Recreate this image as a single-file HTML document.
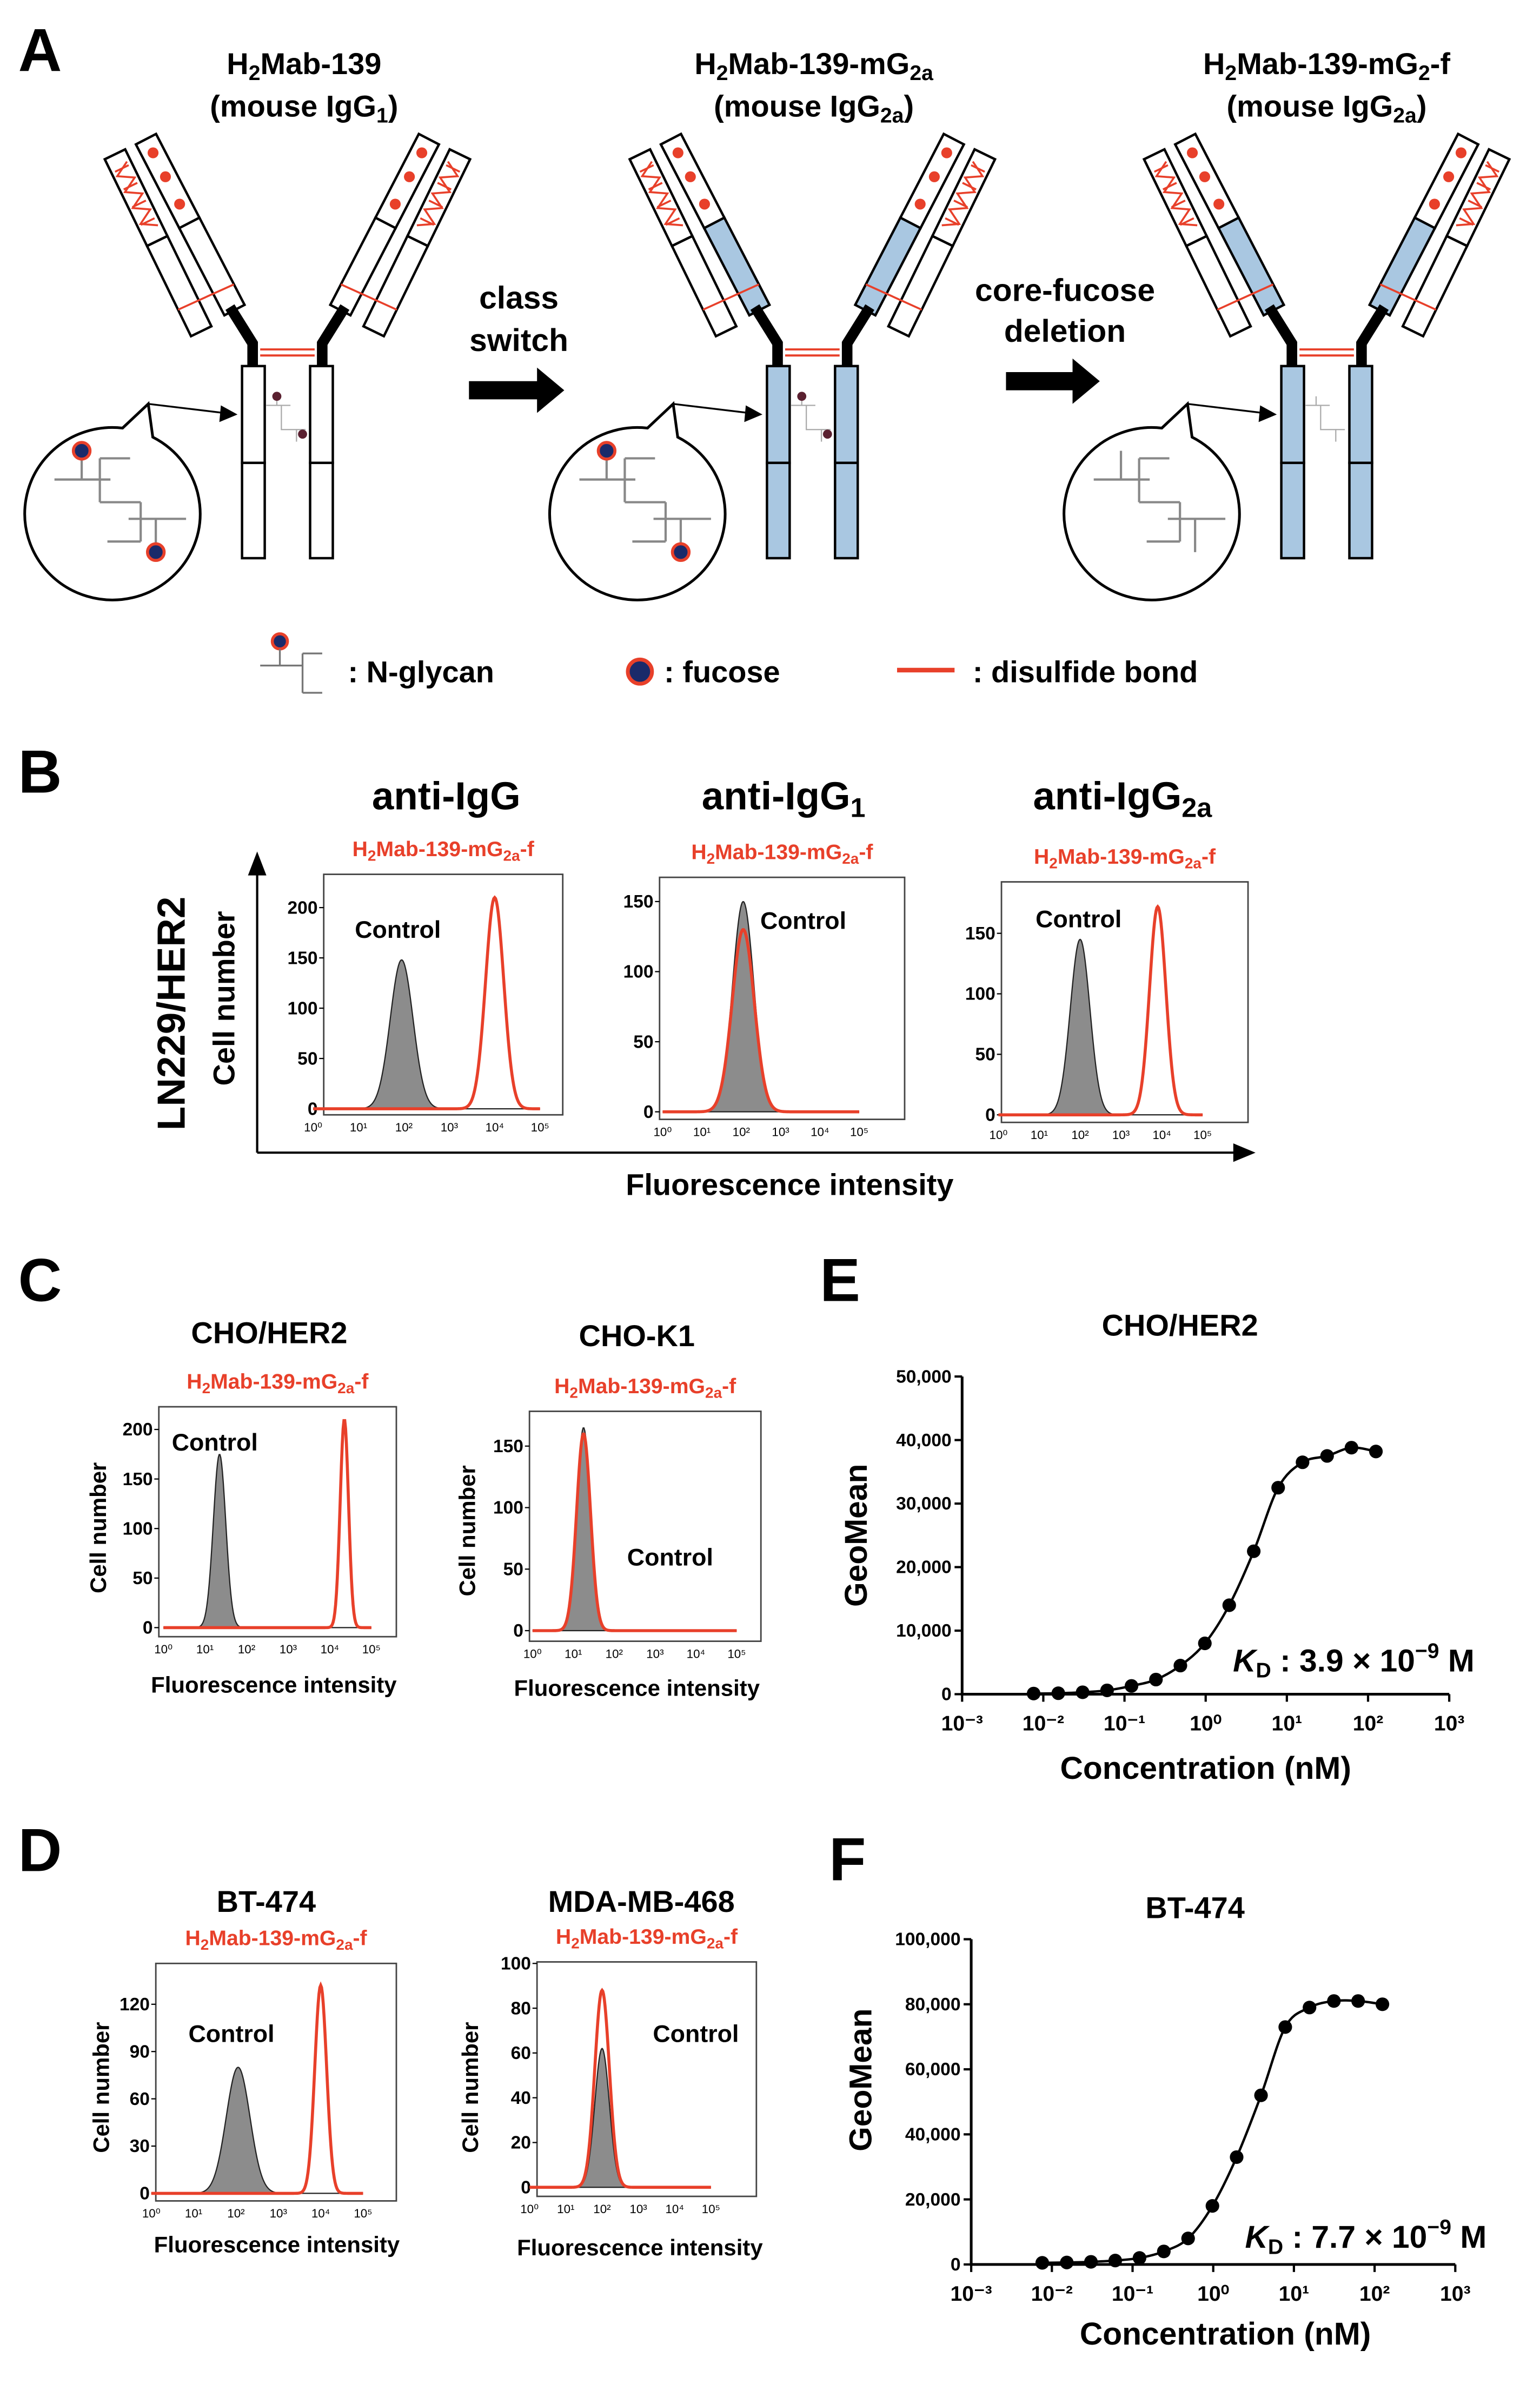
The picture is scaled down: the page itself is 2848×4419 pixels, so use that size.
<!DOCTYPE html>
<html><head><meta charset="utf-8"><style>
html,body{margin:0;padding:0;background:#fff;}
svg{display:block;font-family:"Liberation Sans",Arial,sans-serif;font-weight:bold;}
</style></head><body>
<svg id="fig" width="2848" height="4419" viewBox="0 0 1018 1580" preserveAspectRatio="none" xmlns="http://www.w3.org/2000/svg">
<rect width="1018" height="1580" fill="#fff"/>
<!-- Panel A -->
<text x="12" y="47" font-size="40">A</text>
<text x="201" y="49" font-size="20" text-anchor="middle">H<tspan font-size="14" dy="4">2</tspan><tspan dy="-4">Mab-139</tspan></text>
<text x="201" y="77" font-size="20" text-anchor="middle">(mouse IgG<tspan font-size="14" dy="4">1</tspan><tspan dy="-4">)</tspan></text>
<text x="538" y="49" font-size="20" text-anchor="middle">H<tspan font-size="14" dy="4">2</tspan><tspan dy="-4">Mab-139-mG</tspan><tspan font-size="14" dy="4">2a</tspan></text>
<text x="538" y="77" font-size="20" text-anchor="middle">(mouse IgG<tspan font-size="14" dy="4">2a</tspan><tspan dy="-4">)</tspan></text>
<text x="877" y="49" font-size="20" text-anchor="middle">H<tspan font-size="14" dy="4">2</tspan><tspan dy="-4">Mab-139-mG</tspan><tspan font-size="14" dy="4">2</tspan><tspan dy="-4">-f</tspan></text>
<text x="877" y="77" font-size="20" text-anchor="middle">(mouse IgG<tspan font-size="14" dy="4">2a</tspan><tspan dy="-4">)</tspan></text>
<text x="343" y="204" font-size="21" text-anchor="middle">class</text>
<text x="343" y="232" font-size="21" text-anchor="middle">switch</text>
<path d="M310 252 H355 V243 L373 258 L355 273 V264 H310 Z" fill="#000"/>
<text x="704" y="199" font-size="21" text-anchor="middle">core-fucose</text>
<text x="704" y="226" font-size="21" text-anchor="middle">deletion</text>
<path d="M665 246 H709 V237 L727 252 L709 267 V258 H665 Z" fill="#000"/>
<g id="abs"></g>
<!-- legend -->
<g>
<circle cx="185" cy="424" r="5" fill="#1a2a6a" stroke="#e8402a" stroke-width="2"/>
<path d="M185 429 V440 M172 440 H200 M200 432 V458 M200 432 H213 M200 458 H213" stroke="#777" stroke-width="1.2" fill="none"/>
<text x="230" y="451" font-size="20">: N-glycan</text>
</g>
<g>
<circle cx="423" cy="444" r="8" fill="#1a2a6a" stroke="#e8402a" stroke-width="2.5"/>
<text x="439" y="451" font-size="20">: fucose</text>
</g>
<g>
<line x1="593" y1="443" x2="631" y2="443" stroke="#e8402a" stroke-width="3"/>
<text x="643" y="451" font-size="20">: disulfide bond</text>
</g>
<!-- Panel B -->
<text x="12" y="524" font-size="40">B</text>
<text x="295" y="535" font-size="26" text-anchor="middle">anti-IgG</text>
<text x="518" y="535" font-size="26" text-anchor="middle">anti-IgG<tspan font-size="18" dy="5">1</tspan></text>
<text x="742" y="535" font-size="26" text-anchor="middle">anti-IgG<tspan font-size="18" dy="5">2a</tspan></text>
<text transform="translate(122,670) rotate(-90)" font-size="26" text-anchor="middle">LN229/HER2</text>
<text transform="translate(155,660) rotate(-90)" font-size="20" text-anchor="middle">Cell number</text>
<path d="M170 762 V574 M165 578 L170 565 L175 578 Z" stroke="#000" stroke-width="1.5" fill="#000"/>
<path d="M170 762 H820 M816 757 L828 762 L816 767 Z" stroke="#000" stroke-width="1.5" fill="#000"/>
<text x="522" y="790" font-size="20" text-anchor="middle">Fluorescence intensity</text>
<!-- Panel C -->
<text x="12" y="860" font-size="40">C</text>
<text x="178" y="888" font-size="20" text-anchor="middle">CHO/HER2</text>
<text x="421" y="890" font-size="20" text-anchor="middle">CHO-K1</text>
<text transform="translate(70,1010) rotate(-90)" font-size="15" text-anchor="middle">Cell number</text>
<text transform="translate(314,1012) rotate(-90)" font-size="15" text-anchor="middle">Cell number</text>
<text x="181" y="1119" font-size="15" text-anchor="middle">Fluorescence intensity</text>
<text x="421" y="1121" font-size="15" text-anchor="middle">Fluorescence intensity</text>
<!-- Panel D -->
<text x="12" y="1237" font-size="40">D</text>
<text x="176" y="1264" font-size="20" text-anchor="middle">BT-474</text>
<text x="424" y="1264" font-size="20" text-anchor="middle">MDA-MB-468</text>
<text transform="translate(72,1380) rotate(-90)" font-size="15" text-anchor="middle">Cell number</text>
<text transform="translate(316,1380) rotate(-90)" font-size="15" text-anchor="middle">Cell number</text>
<text x="183" y="1489" font-size="15" text-anchor="middle">Fluorescence intensity</text>
<text x="423" y="1491" font-size="15" text-anchor="middle">Fluorescence intensity</text>
<g id="hists"></g>
<!-- Panel E / F -->
<text x="542" y="860" font-size="40">E</text>
<text x="780" y="883" font-size="20" text-anchor="middle">CHO/HER2</text>
<text transform="translate(573,1015) rotate(-90)" font-size="21" text-anchor="middle">GeoMean</text>
<text x="797" y="1176" font-size="21" text-anchor="middle">Concentration (nM)</text>
<text x="815" y="1105" font-size="21"><tspan font-style="italic">K</tspan><tspan font-size="14" dy="4">D</tspan><tspan dy="-4"> : 3.9 × 10</tspan><tspan font-size="14" dy="-9">−9</tspan><tspan dy="9"> M</tspan></text>
<text x="548" y="1243" font-size="40">F</text>
<text x="790" y="1268" font-size="20" text-anchor="middle">BT-474</text>
<text transform="translate(576,1375) rotate(-90)" font-size="21" text-anchor="middle">GeoMean</text>
<text x="810" y="1550" font-size="21" text-anchor="middle">Concentration (nM)</text>
<text x="823" y="1486" font-size="21"><tspan font-style="italic">K</tspan><tspan font-size="14" dy="4">D</tspan><tspan dy="-4"> : 7.7 × 10</tspan><tspan font-size="14" dy="-9">−9</tspan><tspan dy="9"> M</tspan></text>
<g id="curves"></g>
</svg>
<script>
const NS="http://www.w3.org/2000/svg";
function mk(parent,tag,attrs){const e=document.createElementNS(NS,tag);for(const k in attrs)e.setAttribute(k,attrs[k]);parent.appendChild(e);return e;}

/* ---------- antibodies ---------- */
const abOffsets=[0,347,687];
const abBlue=[false,true,true];
const abFucose=[true,true,false];
const BLUE="#a9c7e1", RED="#e8402a";
function armPoly(p1,p2,w,t0,t1){
  const dx=p2[0]-p1[0],dy=p2[1]-p1[1],L=Math.hypot(dx,dy),ux=dx/L,uy=dy/L,nx=-uy*w/2,ny=ux*w/2;
  const a=[p1[0]+dx*t0,p1[1]+dy*t0],b=[p1[0]+dx*t1,p1[1]+dy*t1];
  return [[a[0]+nx,a[1]+ny],[b[0]+nx,b[1]+ny],[b[0]-nx,b[1]-ny],[a[0]-nx,a[1]-ny]].map(p=>p.join(',')).join(' ');
}
function pt(p1,p2,t,off){const dx=p2[0]-p1[0],dy=p2[1]-p1[1],L=Math.hypot(dx,dy);return [p1[0]+dx*t+(-dy/L)*off,p1[1]+dy*t+(dx/L)*off];}
function halfAb(g,blue){
  const H1=[96.5,92],H2=[155,205],L1=[76,102],L2=[133,219],w=15,f=0.49;
  mk(g,'polygon',{points:armPoly(L1,L2,w,0,f),fill:'#fff',stroke:'#000','stroke-width':1.6});
  mk(g,'polygon',{points:armPoly(L1,L2,w,f,1),fill:'#fff',stroke:'#000','stroke-width':1.6});
  let zz=[];for(let i=0;i<=8;i++){const p=pt(L1,L2,0.06+i*0.045,(i%2?1:-1)*5);zz.push(p.join(','));}
  mk(g,'polyline',{points:zz.join(' '),fill:'none',stroke:RED,'stroke-width':1.3});
  for(let i=0;i<4;i++){const a=pt(L1,L2,0.08+i*0.1,-5),b=pt(L1,L2,0.08+i*0.1,5);mk(g,'line',{x1:a[0],y1:a[1],x2:b[0],y2:b[1],stroke:RED,'stroke-width':1.3});}
  mk(g,'polygon',{points:armPoly(H1,H2,w,0,f),fill:'#fff',stroke:'#000','stroke-width':1.6});
  mk(g,'polygon',{points:armPoly(H1,H2,w,f,1),fill:blue?BLUE:'#fff',stroke:'#000','stroke-width':1.6});
  [0.08,0.22,0.38].forEach(t=>{const p=pt(H1,H2,t,0);mk(g,'circle',{cx:p[0],cy:p[1],r:3.6,fill:RED});});
  const a=pt(L1,L2,0.85,7.5),b=pt(H1,H2,0.88,-7.5);
  mk(g,'line',{x1:a[0],y1:a[1],x2:b[0],y2:b[1],stroke:RED,'stroke-width':1.3});
  mk(g,'polyline',{points:'152,203 167,227 167,243',fill:'none',stroke:'#000','stroke-width':7});
  mk(g,'rect',{x:160,y:242,width:15,height:64,fill:blue?BLUE:'#fff',stroke:'#000','stroke-width':1.6});
  mk(g,'rect',{x:160,y:306,width:15,height:63,fill:blue?BLUE:'#fff',stroke:'#000','stroke-width':1.6});
}
const abRoot=document.getElementById('abs');
abOffsets.forEach((dx,i)=>{
  const g=mk(abRoot,'g',{transform:`translate(${dx},0)`});
  
  
  halfAb(mk(g,'g',{}),abBlue[i]);
  halfAb(mk(g,'g',{transform:'translate(380,0) scale(-1,1)'}),abBlue[i]);
  mk(g,'line',{x1:172,y1:231,x2:208,y2:231,stroke:RED,'stroke-width':1.4});
  mk(g,'line',{x1:172,y1:235,x2:208,y2:235,stroke:RED,'stroke-width':1.4});
  mk(g,'path',{d:'M176 268 H192 M183 262 V268 M186 268 V284 H202 M196 284 V292',stroke:'#aaa','stroke-width':0.8,fill:'none'});
  if(abFucose[i]){mk(g,'circle',{cx:183,cy:262,r:3,fill:'#5a2030'});mk(g,'circle',{cx:200,cy:287,r:3,fill:'#5a2030'});}
  mk(g,'path',{d:'M81 283 L98 267 L101 289 A58 57 0 1 1 81 283 Z',fill:'#fff',stroke:'#000','stroke-width':1.8});
  mk(g,'line',{x1:98,y1:267,x2:148,y2:273,stroke:'#000','stroke-width':1.2});
  mk(g,'path',{d:'M146 268 L157 274 L145 279 Z',fill:'#000'});
  mk(g,'path',{d:'M36 317 H73 M54 298 V317 M66 303 V332 M66 303 H86 M66 332 H93 M93 332 V358 M85 343 H123 M71 358 H93 M103 343 V365',stroke:'#888','stroke-width':1.5,fill:'none'});
  if(abFucose[i]){
    mk(g,'circle',{cx:54,cy:298,r:5.5,fill:'#1a2a6a',stroke:RED,'stroke-width':2});
    mk(g,'circle',{cx:103,cy:365,r:5.5,fill:'#1a2a6a',stroke:RED,'stroke-width':2});
  }
});

/* ---------- histograms ---------- */
const histNames=['b-anti-igg','b-anti-igg1','b-anti-igg2a','c-cho-her2','c-cho-k1','d-bt474','d-mda-mb-468'];
const histFrames=[[214,578,372,737],[436,580,598,740],[662,583,825,742],[105,930,262,1082],[350,933,503,1085],[103,1298,262,1455],[355,1297,500,1452]];
const histX0=[207,438,660,108,352,100,350];
const histPPD=[30,26,27,27.5,27,28,24];
const histYZero=[733,735,737,1076,1078,1450,1446];
const histYTop=[600,596,617,945,956,1325,1298];
const histTopVal=[200,150,150,200,150,120,100];
const histTicks=[[0,50,100,150,200],[0,50,100,150],[0,50,100,150],[0,50,100,150,200],[0,50,100,150],[0,30,60,90,120],[0,20,40,60,80,100]];
const ctrlCenter=[1.95,2.05,2.0,1.35,1.25,2.05,2.0];
const ctrlHeight=[148,150,145,175,165,80,62];
const ctrlWidth=[0.25,0.27,0.24,0.15,0.17,0.28,0.2];
const smpCenter=[4.0,2.05,3.9,4.35,1.25,4.0,2.0];
const smpHeight=[210,130,172,210,160,132,88];
const smpWidth=[0.2,0.28,0.2,0.1,0.17,0.14,0.2];
const ctrlLabelPos=[[263,620],[531,614],[713,613],[142,959],[443,1035],[153,1350],[460,1350]];
const hr=document.getElementById('hists');
function sup(k){return ['⁰','¹','²','³','⁴','⁵'][k];}
histNames.forEach((nm,i)=>{
  const F=histFrames[i],sy=(histYZero[i]-histYTop[i])/histTopVal[i];
  const X=d=>histX0[i]+d*histPPD[i],Y=v=>histYZero[i]-v*sy;
  const g=mk(hr,'g',{});
  
  
  const fr=mk(g,'rect',{x:F[0],y:F[1],width:F[2]-F[0],height:F[3]-F[1],fill:'#fff',stroke:'#444','stroke-width':1});
  
  
  histTicks[i].forEach(v=>{
    const t=mk(g,'text',{x:F[0]-4,y:Y(v)+4,'font-size':12,'text-anchor':'end'});t.textContent=v;
    
    
    mk(g,'line',{x1:F[0]-3,x2:F[0],y1:Y(v),y2:Y(v),stroke:'#000','stroke-width':0.8});
  });
  for(let k=0;k<=5;k++){
    const t=mk(g,'text',{x:X(k),y:F[3]+11,'font-size':8,'text-anchor':'middle','font-weight':'normal'});t.textContent='10'+sup(k);
    
    
  }
  const gauss=(d,c,h,s)=>h*Math.exp(-(d-c)*(d-c)/(2*s*s));
  let pc=`M${X(0)} ${Y(0)}`,ps='';
  for(let d=0;d<=5.0001;d+=0.02){
    pc+=` L${X(d).toFixed(2)} ${Y(gauss(d,ctrlCenter[i],ctrlHeight[i],ctrlWidth[i])).toFixed(2)}`;
    ps+=(ps?' L':'M')+`${X(d).toFixed(2)} ${Y(gauss(d,smpCenter[i],smpHeight[i],smpWidth[i])).toFixed(2)}`;
  }
  pc+=` L${X(5)} ${Y(0)} Z`;
  const c=mk(g,'path',{d:pc,fill:'#8c8c8c',stroke:'#222','stroke-width':0.8});
  
  
  const s=mk(g,'path',{d:ps,fill:'none',stroke:RED,'stroke-width':2});
  
  
  const cl=mk(g,'text',{x:ctrlLabelPos[i][0],y:ctrlLabelPos[i][1],'font-size':16,'text-anchor':'middle'});cl.textContent='Control';
  
  
  const rt=mk(g,'text',{x:(F[0]+F[2])/2,y:F[1]-12,'font-size':14,'text-anchor':'middle',fill:RED});
  rt.innerHTML='H<tspan font-size="10" dy="3">2</tspan><tspan dy="-3">Mab-139-mG</tspan><tspan font-size="10" dy="3">2a</tspan><tspan dy="-3">-f</tspan>';
  
  
});

/* ---------- binding curves ---------- */
const concNM=[0.0076,0.0153,0.0305,0.061,0.122,0.244,0.488,0.977,1.95,3.91,7.81,15.6,31.3,62.5,125];
const geoE=[100,150,300,600,1300,2300,4500,8000,14000,22500,32500,36500,37500,38800,38200];
const geoF=[500,600,800,1200,2000,4000,8000,18000,33000,52000,73000,79000,81000,81000,80000];
const yTicksE=[0,10000,20000,30000,40000,50000];
const yTicksF=[0,20000,40000,60000,80000,100000];
const xTickExp=[-3,-2,-1,0,1,2,3];
const charts=[
 {name:'e',vals:geoE,ticks:yTicksE,ymax:50000,x0:636,x1:958,y0:1120,y1:910},
 {name:'f',vals:geoF,ticks:yTicksF,ymax:100000,x0:642,x1:962,y0:1497,y1:1282}];
const cr=document.getElementById('curves');
const supMap={'-':'⁻','0':'⁰','1':'¹','2':'²','3':'³'};
charts.forEach(C=>{
  const X=v=>C.x0+(Math.log10(v)+3)/6*(C.x1-C.x0),Y=v=>C.y0-v/C.ymax*(C.y0-C.y1);
  const g=mk(cr,'g',{});
  
  
  mk(g,'path',{d:`M${C.x0} ${C.y1} V${C.y0} H${C.x1}`,stroke:'#000','stroke-width':1.8,fill:'none'});
  C.ticks.forEach(v=>{
    mk(g,'line',{x1:C.x0-5,x2:C.x0,y1:Y(v),y2:Y(v),stroke:'#000','stroke-width':1.5});
    const t=mk(g,'text',{x:C.x0-7,y:Y(v)+4,'font-size':12,'text-anchor':'end'});t.textContent=v.toLocaleString('en-US');
    
    
  });
  xTickExp.forEach(e=>{
    const x=X(Math.pow(10,e));
    mk(g,'line',{x1:x,x2:x,y1:C.y0,y2:C.y0+5,stroke:'#000','stroke-width':1.5});
    const t=mk(g,'text',{x:x,y:C.y0+24,'font-size':14,'text-anchor':'middle'});
    t.textContent='10'+String(e).split('').map(ch=>supMap[ch]).join('');
    
    
  });
  const P=concNM.map((c,i)=>[X(c),Y(C.vals[i])]);
  let d=`M${P[0][0]} ${P[0][1]}`;
  for(let i=0;i<P.length-1;i++){
    const p0=P[Math.max(0,i-1)],p1=P[i],p2=P[i+1],p3=P[Math.min(P.length-1,i+2)];
    d+=` C${p1[0]+(p2[0]-p0[0])/6} ${p1[1]+(p2[1]-p0[1])/6} ${p2[0]-(p3[0]-p1[0])/6} ${p2[1]-(p3[1]-p1[1])/6} ${p2[0]} ${p2[1]}`;
  }
  const ln=mk(g,'path',{d:d,fill:'none',stroke:'#000','stroke-width':1.6});
  
  
  P.forEach(p=>{
    const c=mk(g,'circle',{cx:p[0],cy:p[1],r:4.5,fill:'#000'});
    
    
  });
});
</script>
</body></html>
